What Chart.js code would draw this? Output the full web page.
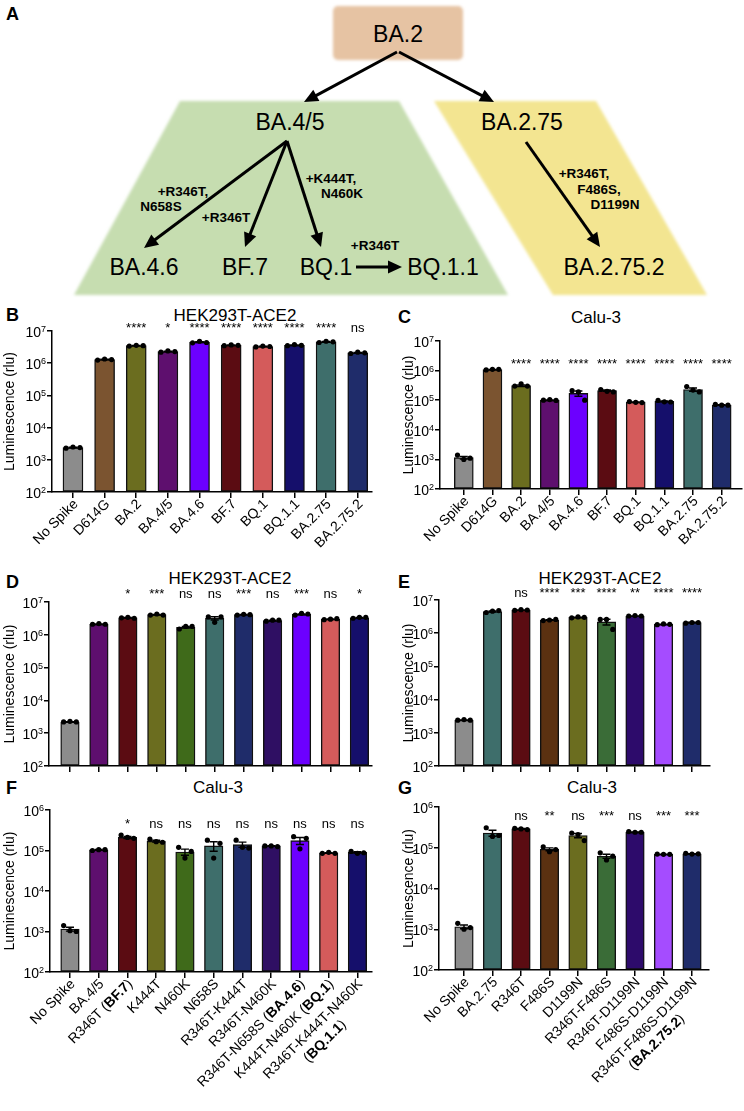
<!DOCTYPE html>
<html>
<head>
<meta charset="utf-8">
<title>Spike pseudovirus entry</title>
<script src="https://cdn.jsdelivr.net/npm/chart.js@4.4.1/dist/chart.umd.min.js"></script>
<style>
  html, body { margin: 0; background: #fff; overflow: hidden; }
  #page { position: relative; width: 744px; height: 1111px; font-family: "Liberation Sans", Arial, sans-serif; }
  canvas { position: absolute; }
  .letter { position: absolute; font-weight: bold; font-size: 18px; line-height: 1; transform: translateY(-50%); }
  .title { position: absolute; font-size: 17px; line-height: 1; transform: translate(-50%, -50%); white-space: nowrap; }
</style>
</head>
<body>
<div id="page">
  <svg id="tree" width="744" height="300" style="position:absolute;left:0;top:0"></svg>
  <div class="letter" style="left:6px;top:14px">A</div>

  <div class="letter" style="left:6px;top:315px">B</div>
  <div class="title" style="left:235px;top:315px">HEK293T-ACE2</div>
  <div class="letter" style="left:398px;top:317px">C</div>
  <div class="title" style="left:596px;top:317px">Calu-3</div>

  <div class="letter" style="left:6px;top:582px">D</div>
  <div class="title" style="left:230px;top:578px">HEK293T-ACE2</div>
  <div class="letter" style="left:398px;top:582px">E</div>
  <div class="title" style="left:600px;top:578px">HEK293T-ACE2</div>

  <div class="letter" style="left:6px;top:788px">F</div>
  <div class="title" style="left:218px;top:787px">Calu-3</div>
  <div class="letter" style="left:398px;top:788px">G</div>
  <div class="title" style="left:592px;top:787px">Calu-3</div>

  <canvas id="cB"></canvas>
  <canvas id="cC"></canvas>
  <canvas id="cD"></canvas>
  <canvas id="cE"></canvas>
  <canvas id="cF"></canvas>
  <canvas id="cG"></canvas>
</div>

<script>
// ---- data ----
const variants = ['No Spike', 'D614G', 'BA.2', 'BA.4/5', 'BA.4.6', 'BF.7', 'BQ.1', 'BQ.1.1', 'BA.2.75', 'BA.2.75.2'];
const variantColors = ['#8c8c8c', '#7b5430', '#6b6d1f', '#5e0f6e', '#6c00ff', '#5b0c12', '#d45b5b', '#150f6b', '#3e6e6b', '#1f2c6a'];

const hekVariants = [2400, 1.3e6, 3.5e6, 2.3e6, 4.5e6, 3.6e6, 3.3e6, 3.6e6, 4.6e6, 2.1e6];
const hekVariantReps = [[2300, 2500, 2400], [1.25e6, 1.35e6, 1.3e6], [3.4e6, 3.6e6, 3.5e6], [2.2e6, 2.4e6, 2.3e6],
  [4.3e6, 4.8e6, 4.4e6], [3.5e6, 3.7e6, 3.6e6], [3.2e6, 3.4e6, 3.3e6], [3.5e6, 3.8e6, 3.6e6], [4.4e6, 4.8e6, 4.6e6], [2.0e6, 2.2e6, 2.1e6]];
const hekVariantSig = ['', '', '****', '*', '****', '****', '****', '****', '****', 'ns'];

const caluVariants = [1150, 1.08e6, 3.1e5, 1.0e5, 1.7e5, 2.1e5, 8.6e4, 9.1e4, 2.3e5, 6.9e4];
const caluVariantReps = [[1400, 1000, 1100], [1.05e6, 1.1e6, 1.1e6], [3.0e5, 3.6e5, 3.0e5], [1.0e5, 1.05e5, 9.8e4],
  [2.1e5, 1.9e5, 1.0e5], [2.3e5, 2.0e5, 1.9e5], [9.0e4, 8.5e4, 8.3e4], [9.8e4, 8.8e4, 8.7e4], [2.9e5, 2.2e5, 1.9e5], [7.2e4, 6.8e4, 6.8e4]];
const caluVariantSig = ['', '', '****', '****', '****', '****', '****', '****', '****', '****'];

const ba45Mutants = ['No Spike', 'BA.4/5', 'R346T (**BF.7**)', 'K444T', 'N460K', 'N658S', 'R346T-K444T', 'R346T-N460K',
  'R346T-N658S (**BA.4.6**)', 'K444T-N460K (**BQ.1**)', 'R346T-K444T-N460K\n(**BQ.1.1**)'];
const ba45Colors = ['#8c8c8c', '#5e0f6e', '#5b0c12', '#6b6d1f', '#3f6a1a', '#3e6e6b', '#1f2c6a', '#2f0f63', '#6c00ff', '#d45b5b', '#150f6b'];

const hekBA45 = [2200, 2.1e6, 3.3e6, 4.1e6, 1.7e6, 3.2e6, 4.1e6, 2.7e6, 4.2e6, 3.0e6, 3.3e6];
const hekBA45Reps = [[2200, 2300, 2200], [2.1e6, 2.2e6, 2.1e6], [3.3e6, 3.4e6, 3.2e6], [4.0e6, 4.3e6, 4.0e6], [1.5e6, 1.8e6, 1.8e6],
  [3.5e6, 2.4e6, 3.5e6], [4.0e6, 4.2e6, 4.1e6], [2.6e6, 2.8e6, 2.8e6], [4.0e6, 4.5e6, 4.3e6], [2.9e6, 3.0e6, 3.1e6], [3.2e6, 3.4e6, 3.4e6]];
const hekBA45Sig = ['', '', '*', '***', 'ns', 'ns', '***', 'ns', '***', 'ns', '*'];

const caluBA45 = [1150, 1.04e5, 2.1e5, 1.7e5, 9.2e4, 1.3e5, 1.4e5, 1.3e5, 1.75e5, 8.7e4, 9.0e4];
const caluBA45Reps = [[1400, 1050, 1000], [1.0e5, 1.05e5, 1.05e5], [2.4e5, 2.1e5, 2.0e5], [1.9e5, 1.65e5, 1.6e5], [1.2e5, 6.5e4, 9.5e4],
  [1.8e5, 6.5e4, 1.5e5], [1.8e5, 1.2e5, 1.15e5], [1.3e5, 1.3e5, 1.25e5], [2.2e5, 1.1e5, 2.0e5], [8.5e4, 9.0e4, 8.5e4], [9.5e4, 8.5e4, 8.8e4]];
const caluBA45Sig = ['', '', '*', 'ns', 'ns', 'ns', 'ns', 'ns', 'ns', 'ns', 'ns'];

const ba275Mutants = ['No Spike', 'BA.2.75', 'R346T', 'F486S', 'D1199N', 'R346T-F486S', 'R346T-D1199N', 'F486S-D1199N',
  'R346T-F486S-D1199N\n(**BA.2.75.2**)'];
const ba275Colors = ['#8c8c8c', '#3e6e6b', '#5b0c12', '#5b3111', '#6b6d1f', '#3a6c37', '#2d0b6b', '#a54cff', '#1f2c6a'];

const hekBA275 = [2400, 4.5e6, 5.0e6, 2.5e6, 3.0e6, 2.2e6, 3.3e6, 1.85e6, 2.1e6];
const hekBA275Reps = [[2400, 2500, 2400], [4.2e6, 4.6e6, 4.8e6], [4.9e6, 5.1e6, 5.0e6], [2.4e6, 2.5e6, 2.6e6], [2.9e6, 3.1e6, 3.0e6],
  [2.6e6, 2.6e6, 1.3e6], [3.3e6, 3.4e6, 3.3e6], [1.8e6, 1.9e6, 1.85e6], [2.0e6, 2.1e6, 2.1e6]];
const hekBA275Sig = ['', '', 'ns', '****', '***', '****', '**', '****', '****'];

const caluBA275 = [1150, 2.3e5, 2.9e5, 9.2e4, 2.0e5, 6.2e4, 2.4e5, 6.9e4, 7.1e4];
const caluBA275Reps = [[1400, 1000, 1100], [3.1e5, 1.9e5, 2.0e5], [3.0e5, 2.9e5, 2.8e5], [1.05e5, 8.0e4, 9.0e4], [2.3e5, 2.1e5, 1.5e5],
  [7.5e4, 5.0e4, 6.2e4], [2.5e5, 2.4e5, 2.4e5], [7.0e4, 6.9e4, 6.9e4], [7.3e4, 7.0e4, 7.1e4]];
const caluBA275Sig = ['', '', 'ns', '**', 'ns', '***', 'ns', '***', '***'];

const decadesTo7 = [2, 3, 4, 5, 6, 7];
const decadesTo6 = [2, 3, 4, 5, 6];

// ---- panel A: lineage sketch ----
const NS = 'http://www.w3.org/2000/svg';
const svg = document.getElementById('tree');
function add(tag, attrs, text) {
  const el = document.createElementNS(NS, tag);
  for (const k in attrs) el.setAttribute(k, attrs[k]);
  if (text) el.textContent = text;
  svg.appendChild(el);
  return el;
}
const defs = add('defs', {});
const blur = document.createElementNS(NS, 'filter');
blur.setAttribute('id', 'soft');
blur.innerHTML = '<feGaussianBlur stdDeviation="1.5"/>';
defs.appendChild(blur);

add('rect', {x: 333, y: 6, width: 130, height: 54, rx: 5, fill: '#e6c3a3', filter: 'url(#soft)'});
add('polygon', {points: '180,101 399,101 508,295 74,295', fill: '#c6ddb0', filter: 'url(#soft)'});
add('polygon', {points: '434,101 596,101 707,295 553,295', fill: '#f3e591', filter: 'url(#soft)'});

function arrow(x1, y1, x2, y2) {
  const dx = x2 - x1, dy = y2 - y1, len = Math.hypot(dx, dy);
  const ux = dx / len, uy = dy / len, hl = 14, hw = 6.5;
  const bx = x2 - ux * hl, by = y2 - uy * hl;
  add('line', {x1, y1, x2: bx + ux * 2, y2: by + uy * 2, stroke: '#000', 'stroke-width': 3});
  add('polygon', {points: `${x2},${y2} ${bx - uy * hw},${by + ux * hw} ${bx + uy * hw},${by - ux * hw}`, fill: '#000'});
}
arrow(397, 52, 304, 102);
arrow(399, 52, 494, 102);
arrow(287, 141, 144, 248);
arrow(287, 141, 245, 247);
arrow(287, 141, 321, 247);
arrow(356, 267, 402, 267);
arrow(526, 142, 600, 247);

const big = {'font-size': 23, 'text-anchor': 'middle', 'dominant-baseline': 'central', 'font-family': 'Liberation Sans, Arial, sans-serif'};
[['BA.2', 398, 34], ['BA.4/5', 290, 122], ['BA.2.75', 522, 122], ['BA.4.6', 144, 267], ['BF.7', 245, 267],
 ['BQ.1', 326, 267], ['BQ.1.1', 443, 267], ['BA.2.75.2', 614, 267]].forEach(([t, x, y]) => add('text', {...big, x, y}, t));

const small = {'font-size': 13.5, 'font-weight': 'bold', 'text-anchor': 'middle', 'dominant-baseline': 'central', 'font-family': 'Liberation Sans, Arial, sans-serif'};
[['+R346T,', 183, 191], ['N658S', 161, 206], ['+R346T', 226, 217], ['+K444T,', 331, 178], ['N460K', 342, 193],
 ['+R346T', 375, 245], ['+R346T,', 584, 173], ['F486S,', 599, 189], ['D1199N', 615, 204]].forEach(([t, x, y]) => add('text', {...small, x, y}, t));

// ---- bar panels ----
const FAMILY = '"Liberation Sans", Arial, sans-serif';
Chart.defaults.font.family = FAMILY;
Chart.defaults.color = '#000';
const dotOffsets = [-0.22, 0, 0.22];

function richWidth(ctx, line) {
  let w = 0;
  line.split('**').forEach((part, k) => {
    ctx.font = (k % 2 ? 'bold ' : '') + '14px ' + FAMILY;
    w += ctx.measureText(part).width;
  });
  return w;
}
function richText(ctx, line, x, y) {
  line.split('**').forEach((part, k) => {
    ctx.font = (k % 2 ? 'bold ' : '') + '14px ' + FAMILY;
    ctx.fillText(part, x, y);
    x += ctx.measureText(part).width;
  });
}

const lumPlugin = {
  id: 'lum',
  afterDatasetsDraw(chart, args, o) {
    const {ctx} = chart;
    const xs = chart.scales.x, ys = chart.scales.y;
    ctx.save();
    ctx.strokeStyle = '#000';
    ctx.lineWidth = 1.4;
    o.reps.forEach((r, i) => {
      const m = r.reduce((a, b) => a + b, 0) / r.length;
      const sd = Math.sqrt(r.reduce((a, v) => a + (v - m) ** 2, 0) / (r.length - 1));
      const sem = sd / Math.sqrt(r.length);
      const px = xs.getPixelForValue(i);
      const cap = xs.getPixelForValue(i + 0.14) - px;
      const y1 = ys.getPixelForValue(o.means[i] - sem), y2 = ys.getPixelForValue(o.means[i] + sem);
      ctx.beginPath();
      ctx.moveTo(px, y1); ctx.lineTo(px, y2);
      ctx.moveTo(px - cap, y1); ctx.lineTo(px + cap, y1);
      ctx.moveTo(px - cap, y2); ctx.lineTo(px + cap, y2);
      ctx.stroke();
    });
    ctx.restore();
  },
  afterDraw(chart, args, o) {
    const {ctx, chartArea} = chart;
    const xs = chart.scales.x, ys = chart.scales.y;
    ctx.save();
    ctx.fillStyle = '#000';

    // significance marks
    ctx.font = '13px ' + FAMILY;
    ctx.textAlign = 'center';
    ctx.textBaseline = 'alphabetic';
    o.sig.forEach((s, i) => { if (s) ctx.fillText(s, xs.getPixelForValue(i), chartArea.top + o.starDy); });

    // y tick labels 10^n
    o.yExps.forEach(e => {
      const py = ys.getPixelForValue(10 ** e);
      ctx.font = '9px ' + FAMILY;
      const ew = ctx.measureText(String(e)).width;
      ctx.textAlign = 'left';
      ctx.textBaseline = 'alphabetic';
      ctx.fillText(String(e), chartArea.left - 6 - ew, py + 1);
      ctx.font = '14px ' + FAMILY;
      ctx.textAlign = 'right';
      ctx.textBaseline = 'middle';
      ctx.fillText('10', chartArea.left - 6 - ew, py + 2);
    });

    // rotated category labels
    if (o.labels) {
      ctx.textAlign = 'left';
      ctx.textBaseline = 'middle';
      o.labels.forEach((lab, i) => {
        const lines = lab.split('\n');
        ctx.save();
        ctx.translate(xs.getPixelForValue(i) + 3, chartArea.bottom + 10);
        ctx.rotate(-Math.PI / 4);
        const w0 = richWidth(ctx, lines[0]);
        lines.forEach((ln, k) => {
          const w = richWidth(ctx, ln);
          richText(ctx, ln, k === 0 ? -w : -w0 / 2 - w / 2, k * 17);
        });
        ctx.restore();
      });
    }
    ctx.restore();
  }
};

function drawPanel(id, g, d) {
  const cv = document.getElementById(id);
  cv.width = g.W; cv.height = g.H;
  cv.style.left = g.L + 'px'; cv.style.top = g.T + 'px';
  const yMax = 10 ** d.yExps[d.yExps.length - 1];
  new Chart(cv, {
    data: {
      datasets: [
        {
          type: 'scatter',
          data: d.reps.flatMap((r, i) => r.map((v, k) => ({x: i + dotOffsets[k], y: v}))),
          pointRadius: 2.6, pointHoverRadius: 2.6, backgroundColor: '#000', borderWidth: 0, order: 0
        },
        {
          type: 'bar',
          data: d.means.map((v, i) => ({x: i, y: v})),
          backgroundColor: d.colors, borderColor: '#111', borderWidth: 1.4, borderSkipped: false,
          barThickness: g.bw, base: 100, grouped: false, order: 1
        }
      ]
    },
    options: {
      responsive: false, animation: false, events: [],
      layout: {padding: {left: 0, top: g.at - g.T, right: g.L + g.W - g.ar, bottom: 0}},
      plugins: {
        legend: {display: false}, tooltip: {enabled: false},
        lum: {means: d.means, reps: d.reps, sig: d.sig, labels: d.labels, yExps: d.yExps, starDy: g.starDy}
      },
      scales: {
        x: {
          type: 'linear', offset: false,
          min: (g.ax - g.c0) / g.s, max: (g.ar - g.c0) / g.s,
          afterBuildTicks: s => { s.ticks = d.means.map((_, i) => ({value: i})); },
          afterFit: s => { s.height = g.T + g.H - g.ab; },
          ticks: {display: false},
          grid: {display: true, offset: false, drawOnChartArea: false, drawTicks: true, tickLength: 6, color: '#000', lineWidth: 1.5},
          border: {display: true, color: '#000', width: 1.5}
        },
        y: {
          type: 'logarithmic', min: 100, max: yMax,
          afterBuildTicks: s => { s.ticks = d.yExps.map(e => ({value: 10 ** e})); },
          afterFit: s => { s.width = g.ax - g.L; },
          ticks: {display: false},
          title: {display: true, text: 'Luminescence (rlu)', color: '#000', font: {size: 14}, padding: {top: 2, bottom: 0}},
          grid: {display: true, drawOnChartArea: false, drawTicks: true, tickLength: 5, color: '#000', lineWidth: 1.5},
          border: {display: true, color: '#000', width: 1.5}
        }
      }
    },
    plugins: [lumPlugin]
  });
}

drawPanel('cB', {L: 0, T: 312, W: 374, H: 280, ax: 52, at: 331, ar: 372, ab: 492, c0: 73, s: 31.7, bw: 20, starDy: 1},
  {means: hekVariants, reps: hekVariantReps, sig: hekVariantSig, colors: variantColors, labels: variants, yExps: decadesTo7});
drawPanel('cC', {L: 399, T: 322, W: 345, H: 270, ax: 440, at: 341, ar: 744, ab: 489, c0: 464, s: 28.9, bw: 19, starDy: 27},
  {means: caluVariants, reps: caluVariantReps, sig: caluVariantSig, colors: variantColors, labels: variants, yExps: decadesTo7});
drawPanel('cD', {L: 0, T: 586, W: 374, H: 197, ax: 49, at: 602, ar: 372, ab: 766, c0: 70, s: 29, bw: 18.5, starDy: -4},
  {means: hekBA45, reps: hekBA45Reps, sig: hekBA45Sig, colors: ba45Colors, labels: null, yExps: decadesTo7});
drawPanel('cE', {L: 399, T: 584, W: 345, H: 199, ax: 439, at: 600, ar: 710, ab: 766, c0: 464, s: 28.5, bw: 18.5, starDy: -3},
  {means: hekBA275, reps: hekBA275Reps, sig: hekBA275Sig, colors: ba275Colors, labels: null, yExps: decadesTo7});
drawPanel('cF', {L: 0, T: 798, W: 374, H: 313, ax: 50, at: 810, ar: 372, ab: 972, c0: 70, s: 28.8, bw: 18.5, starDy: 18},
  {means: caluBA45, reps: caluBA45Reps, sig: caluBA45Sig, colors: ba45Colors, labels: ba45Mutants, yExps: decadesTo6});
drawPanel('cG', {L: 399, T: 795, W: 345, H: 316, ax: 439, at: 807, ar: 709, ab: 970, c0: 464, s: 28.5, bw: 18.5, starDy: 13},
  {means: caluBA275, reps: caluBA275Reps, sig: caluBA275Sig, colors: ba275Colors, labels: ba275Mutants, yExps: decadesTo6});
</script>
</body>
</html>
